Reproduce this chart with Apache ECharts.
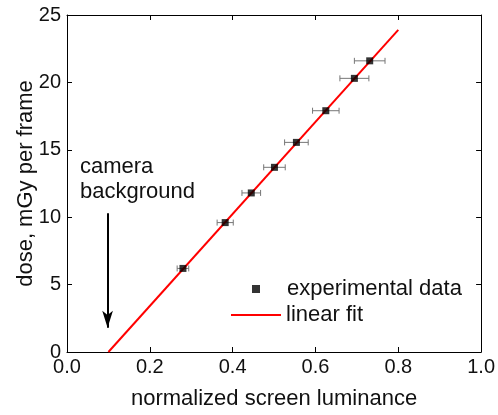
<!DOCTYPE html>
<html>
<head>
<meta charset="utf-8">
<script src="https://cdn.jsdelivr.net/npm/echarts@6/dist/echarts.min.js"></script>
<style>
  html, body { margin: 0; padding: 0; background: #fff; }
  #chart { width: 498px; height: 415px; }
</style>
</head>
<body>
<div id="chart"></div>
<script>
// measured points: luminance, dose, horizontal error
const luminance = [0.280, 0.382, 0.445, 0.501, 0.554, 0.625, 0.694, 0.731];
const dose = [6.2, 9.6, 11.8, 13.7, 15.55, 17.9, 20.3, 21.6];
const lumError = [0.014, 0.0195, 0.0225, 0.026, 0.0285, 0.032, 0.035, 0.037];

// linear fit end points
const fitX = [0.1, 0.8];
const fitY = [0, 23.9];

// arrow for "camera background"
const arrowX = 0.098;
const arrowFrom = 10.3;
const arrowTo = 1.8;

const xTicks = { min: 0, max: 1, interval: 0.2 };
const yTicks = { min: 0, max: 25, interval: 5 };

const font = 'Liberation Sans, Arial, sans-serif';

const chart = echarts.init(document.getElementById('chart'), null, { renderer: 'canvas' });

const pointData = luminance.map((x, i) => [x, dose[i], lumError[i]]);
const fitData = fitX.map((x, i) => [x, fitY[i]]);

const frameAxis = {
  type: 'value',
  axisLine: { show: true, onZero: false, lineStyle: { color: '#000', width: 1 } },
  axisTick: { show: true, inside: true, length: 5, lineStyle: { color: '#000' } },
  axisLabel: { show: false },
  splitLine: { show: false }
};

const option = {
  animation: false,
  grid: { left: 67, right: 12, top: 15, bottom: 63 },
  xAxis: [
    {
      type: 'value',
      ...xTicks,
      name: 'normalized screen luminance',
      nameLocation: 'middle',
      nameGap: 36,
      nameMoveOverlap: false,
      nameTextStyle: { fontFamily: font, fontSize: 22, color: '#111' },
      axisLine: { show: true, onZero: false, lineStyle: { color: '#000', width: 1 } },
      axisTick: { show: true, inside: true, length: 5, lineStyle: { color: '#000' } },
      axisLabel: {
        fontFamily: font, fontSize: 20, color: '#111', margin: 5,
        formatter: v => v.toFixed(1)
      },
      splitLine: { show: false }
    },
    { ...frameAxis, ...xTicks, position: 'top' }
  ],
  yAxis: [
    {
      type: 'value',
      ...yTicks,
      name: 'dose, mGy per frame',
      nameLocation: 'middle',
      nameGap: 30,
      nameMoveOverlap: false,
      nameTextStyle: { fontFamily: font, fontSize: 22, color: '#111' },
      axisLine: { show: true, onZero: false, lineStyle: { color: '#000', width: 1 } },
      axisTick: { show: true, inside: true, length: 5, lineStyle: { color: '#000' } },
      axisLabel: { fontFamily: font, fontSize: 20, color: '#111', margin: 6 },
      splitLine: { show: false }
    },
    { ...frameAxis, ...yTicks, position: 'right' }
  ],
  legend: [
    {
      left: 247,
      top: 273,
      itemWidth: 8,
      itemHeight: 8,
      textStyle: { fontFamily: font, fontSize: 22, color: '#111', padding: [0, 0, 0, 22] },
      data: [{ name: 'experimental data', icon: 'rect' }]
    },
    {
      left: 226,
      top: 299,
      itemWidth: 50,
      itemHeight: 2,
      textStyle: { fontFamily: font, fontSize: 22, color: '#111' },
      data: [{ name: 'linear fit', icon: 'rect' }]
    }
  ],
  graphic: [
    {
      type: 'text', left: 80, top: 156,
      style: { text: 'camera', font: '22px ' + font, fill: '#111' }
    },
    {
      type: 'text', left: 80, top: 181,
      style: { text: 'background', font: '22px ' + font, fill: '#111' }
    }
  ],
  series: [
    {
      name: 'linear fit',
      type: 'line',
      data: fitData,
      symbol: 'none',
      lineStyle: { color: '#ff0000', width: 2 },
      itemStyle: { color: '#ff0000' },
      z: 3,
      markLine: {
        silent: true,
        symbol: ['none', 'arrow'],
        symbolSize: [8, 17],
        label: { show: false },
        lineStyle: { color: '#000', width: 2, type: 'solid' },
        data: [[{ coord: [arrowX, arrowFrom] }, { coord: [arrowX, arrowTo] }]]
      }
    },
    {
      name: 'error',
      type: 'custom',
      data: pointData,
      z: 2,
      renderItem: function (params, api) {
        const x = api.value(0), y = api.value(1), e = api.value(2);
        const a = api.coord([x - e, y]);
        const b = api.coord([x + e, y]);
        const cap = 3;
        const style = { stroke: '#777', lineWidth: 1 };
        return {
          type: 'group',
          children: [
            { type: 'line', shape: { x1: a[0], y1: a[1], x2: b[0], y2: b[1] }, style },
            { type: 'line', shape: { x1: a[0], y1: a[1] - cap, x2: a[0], y2: a[1] + cap }, style },
            { type: 'line', shape: { x1: b[0], y1: b[1] - cap, x2: b[0], y2: b[1] + cap }, style }
          ]
        };
      }
    },
    {
      name: 'experimental data',
      type: 'scatter',
      data: pointData,
      symbol: 'rect',
      symbolSize: 7,
      itemStyle: { color: '#000' },
      z: 4
    }
  ]
};

chart.setOption(option);
</script>
</body>
</html>
